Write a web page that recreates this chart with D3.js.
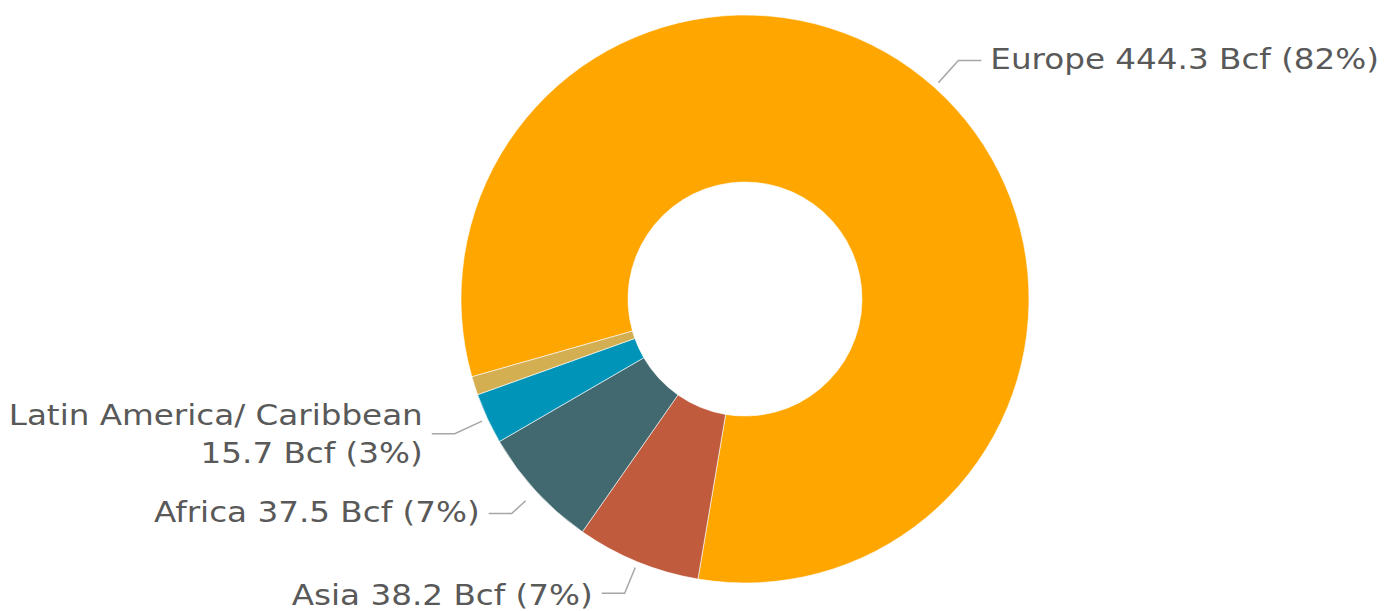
<!DOCTYPE html>
<html>
<head>
<meta charset="utf-8">
<script src="https://cdn.jsdelivr.net/npm/d3@7"></script>
<style>
  html, body { margin: 0; padding: 0; background: #fff; }
  svg { display: block; }
  text { font-family: "DejaVu Sans", Verdana, sans-serif; }
</style>
</head>
<body>
<svg id="chart" width="1384" height="611"></svg>
<script>
// ---- data ----
const categories = ["Europe", "Asia", "Africa", "Latin America/ Caribbean", "Other"];
const values = [444.3, 38.2, 37.5, 15.7, 5.7];
const labelLines = [
  ["Europe 444.3 Bcf (82%)"],
  ["Asia 38.2 Bcf (7%)"],
  ["Africa 37.5 Bcf (7%)"],
  ["Latin America/ Caribbean", "15.7 Bcf (3%)"],
  []
];
const colors = ["#FFA600", "#C15B3E", "#42696F", "#0095B8", "#D3AF52"];

// ---- layout ----
const W = 1384, H = 611;
const cx = 745, cy = 299, R = 284, r0 = 117;
const startDeg = -105.9;
const startGap = [6, 6, 14, 6, 0];
const elbowLen = [30, 28, 19, 30, 0];
const baseOff = [8, 12, 8, 10, 0];
const stretch = 1.165;

const svg = d3.select("#chart");
const g = svg.append("g").attr("transform", `translate(${cx},${cy})`);

const data = categories.map((c, i) => ({ name: c, value: values[i], i }));
const start = startDeg * Math.PI / 180;
const pie = d3.pie().value(d => d.value).sort(null)
  .startAngle(start).endAngle(start + 2 * Math.PI);
const arcs = pie(data);
const arc = d3.arc().innerRadius(r0).outerRadius(R);

g.selectAll("path.slice").data(arcs).join("path")
  .attr("class", "slice")
  .attr("d", arc)
  .attr("fill", d => colors[d.data.i])
  .attr("stroke", "#fff")
  .attr("stroke-width", 0.6);

const fs = 28, lh = 38;
arcs.forEach(a => {
  const i = a.data.i;
  const lines = labelLines[i];
  if (!lines.length) return;
  const m = (a.startAngle + a.endAngle) / 2;
  const sx = Math.sin(m), sy = -Math.cos(m);
  const d0 = R + startGap[i];
  const p0 = [sx * d0, sy * d0];
  const L = d0 + elbowLen[i];
  const p1 = [sx * L, sy * L];
  const right = sx > 0;
  const p2 = [p1[0] + (right ? 23 : -23), p1[1]];
  g.append("polyline")
    .attr("points", [p0, p1, p2].map(p => p.join(",")).join(" "))
    .attr("fill", "none").attr("stroke", "#A6A6A6").attr("stroke-width", 1.5);
  const tx = p2[0] + (right ? 9 : -9);
  const n = lines.length;
  const t = g.append("text")
    .attr("transform", `translate(${tx},0) scale(${stretch},1)`)
    .attr("text-anchor", right ? "start" : "end")
    .attr("fill", "#595959")
    .attr("font-size", fs);
  lines.forEach((ln, k) => {
    t.append("tspan").attr("x", 0)
      .attr("y", p1[1] + baseOff[i] + (k - (n - 1) / 2) * lh)
      .text(ln);
  });
});
</script>
</body>
</html>
